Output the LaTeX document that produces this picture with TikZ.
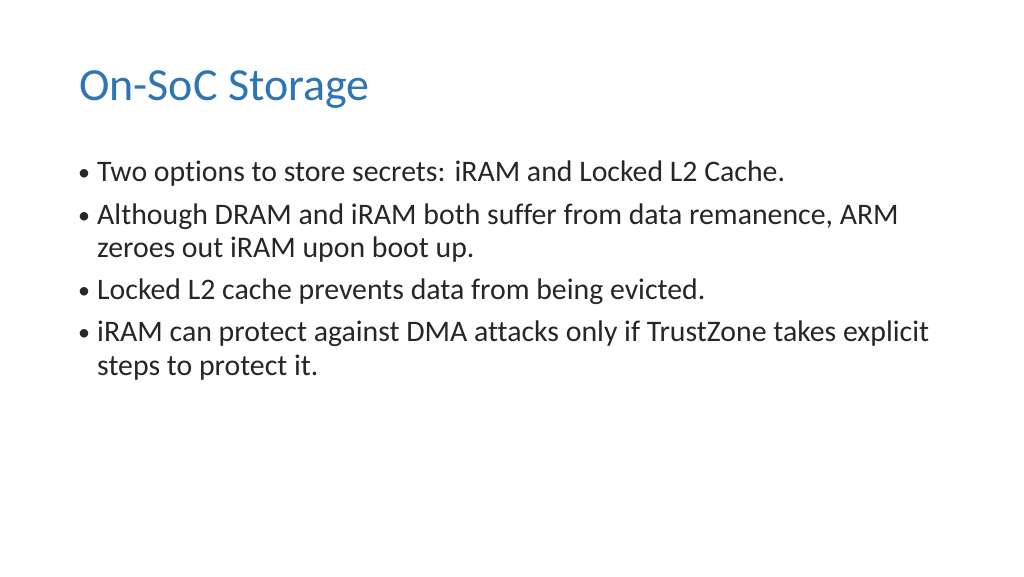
\documentclass[tikz,border=0pt]{standalone}
\usepackage{fontspec}
\setmainfont{Carlito}[Ligatures={NoCommon,NoRare,NoDiscretionary}]
\definecolor{titleblue}{RGB}{46,117,182}
\definecolor{bodytxt}{RGB}{38,38,38}
\begin{document}
\begin{tikzpicture}[x=1pt,y=-1pt,
  title/.style={anchor=base west,inner sep=0pt,font=\fontsize{46}{54}\selectfont,text=titleblue},
  body/.style={anchor=base west,inner sep=0pt,font=\fontsize{29.8}{36}\selectfont,text=bodytxt},
  bul/.style={anchor=base west,inner sep=0pt,font=\fontsize{24}{30}\selectfont,text=bodytxt}]
\useasboundingbox[fill=white] (0,0) rectangle (1024,576);
\node[title] (t) at (79,100) {On-SoC Storage};
\node[bul] (b1) at (78,180) {•};
\node[body] (l1) at (97,181) {Two options to store secrets: iRAM and Locked L2 Cache.};
\node[bul] (b2) at (78,223) {•};
\node[body] (l2) at (97,224) {Although DRAM and iRAM both suffer from data remanence, ARM};
\node[body] (l3) at (97,257) {zeroes out iRAM upon boot up.};
\node[bul] (b3) at (78,298) {•};
\node[body] (l4) at (97,299) {Locked L2 cache prevents data from being evicted.};
\node[bul] (b4) at (78,340) {•};
\node[body] (l5) at (97,341) {iRAM can protect against DMA attacks only if TrustZone takes explicit};
\node[body] (l6) at (97,375) {steps to protect it.};
\end{tikzpicture}
\end{document}
